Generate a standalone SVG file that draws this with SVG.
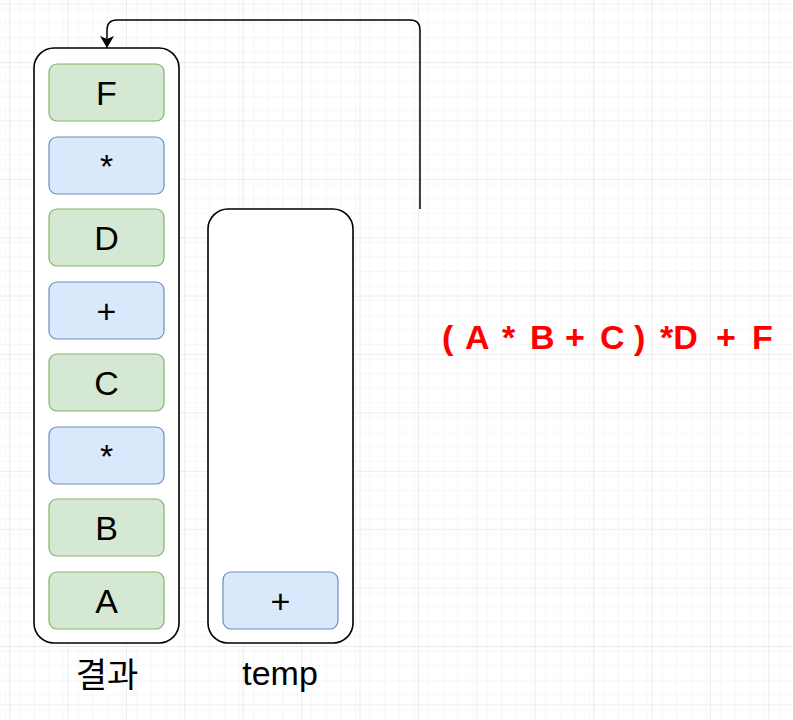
<svg xmlns="http://www.w3.org/2000/svg" width="793" height="720" viewBox="0 0 793 720">
<defs>
<pattern id="minor" patternUnits="userSpaceOnUse" x="10.2" y="4.6" width="14.6" height="14.6">
<path d="M14.6 0V14.6M0 14.6H14.6" fill="none" stroke="#eeeeee" stroke-width="1"/>
</pattern>
<pattern id="major" patternUnits="userSpaceOnUse" x="10.2" y="4.6" width="58.4" height="58.4">
<rect width="58.4" height="58.4" fill="url(#minor)"/>
<path d="M58.4 0V58.4M0 58.4H58.4" fill="none" stroke="#dadada" stroke-width="1"/>
</pattern>
<marker id="arr" viewBox="0 0 12 14" refX="12" refY="7" markerWidth="12" markerHeight="14" markerUnits="userSpaceOnUse" orient="auto">
<path d="M0 0L12 7L0 14L3 7Z" fill="#000"/>
</marker>
</defs>
<style>
.cont{fill:#fff;stroke:#000;stroke-width:1.6}
.g{fill:#d5e8d4;stroke:#82b366;stroke-width:1.2}
.b{fill:#dae8fc;stroke:#6c8ebf;stroke-width:1.2}
.t{font-family:"Liberation Sans",Arial,sans-serif;font-size:34px;fill:#000;text-anchor:middle}
.k{font-family:"Liberation Sans","Noto Sans CJK KR",sans-serif;font-size:34px;fill:#000;text-anchor:middle}
.r{font-family:"Liberation Sans",Arial,sans-serif;font-size:34px;font-weight:bold;fill:#ff0000}
</style>
<rect width="793" height="720" fill="#fff"/>
<rect width="793" height="720" fill="url(#major)"/>
<g id="connectors">
<path d="M420 209V30Q420 20 410 20H117Q107 20 107 30V48" fill="none" stroke="#000" stroke-width="1.5" marker-end="url(#arr)"/>
</g>
<g id="result">
<rect class="cont" x="34" y="48" width="145" height="595" rx="20"/>
<text class="k" x="107" y="687">결과</text>
</g>
<g id="temp">
<rect class="cont" x="208" y="209" width="145" height="434" rx="20"/>
<text class="t" x="280" y="685">temp</text>
</g>
<g id="n-F"><rect class="g" x="49" y="64" width="115" height="57" rx="8"/><text class="t" x="106.5" y="105">F</text></g>
<g id="n-mul1"><rect class="b" x="49" y="137" width="115" height="57" rx="8"/><text class="t" x="106.5" y="178">*</text></g>
<g id="n-D"><rect class="g" x="49" y="209" width="115" height="57" rx="8"/><text class="t" x="106.5" y="250">D</text></g>
<g id="n-plus"><rect class="b" x="49" y="282" width="115" height="57" rx="8"/><text class="t" x="106.5" y="323">+</text></g>
<g id="n-C"><rect class="g" x="49" y="354" width="115" height="57" rx="8"/><text class="t" x="106.5" y="395">C</text></g>
<g id="n-mul2"><rect class="b" x="49" y="427" width="115" height="57" rx="8"/><text class="t" x="106.5" y="468">*</text></g>
<g id="n-B"><rect class="g" x="49" y="499" width="115" height="57" rx="8"/><text class="t" x="106.5" y="540">B</text></g>
<g id="n-A"><rect class="g" x="49" y="572" width="115" height="57" rx="8"/><text class="t" x="106.5" y="613">A</text></g>
<g id="n-temp-plus"><rect class="b" x="223" y="572" width="115" height="57" rx="8"/><text class="t" x="280.5" y="613">+</text></g>
<g id="expr">
<text class="r" y="349"><tspan x="442">(</tspan><tspan x="465">A</tspan><tspan x="502">*</tspan><tspan x="530">B</tspan><tspan x="565">+</tspan><tspan x="600">C</tspan><tspan x="634">)</tspan><tspan x="660">*D</tspan><tspan x="716">+</tspan><tspan x="752">F</tspan></text>
</g>
</svg>
